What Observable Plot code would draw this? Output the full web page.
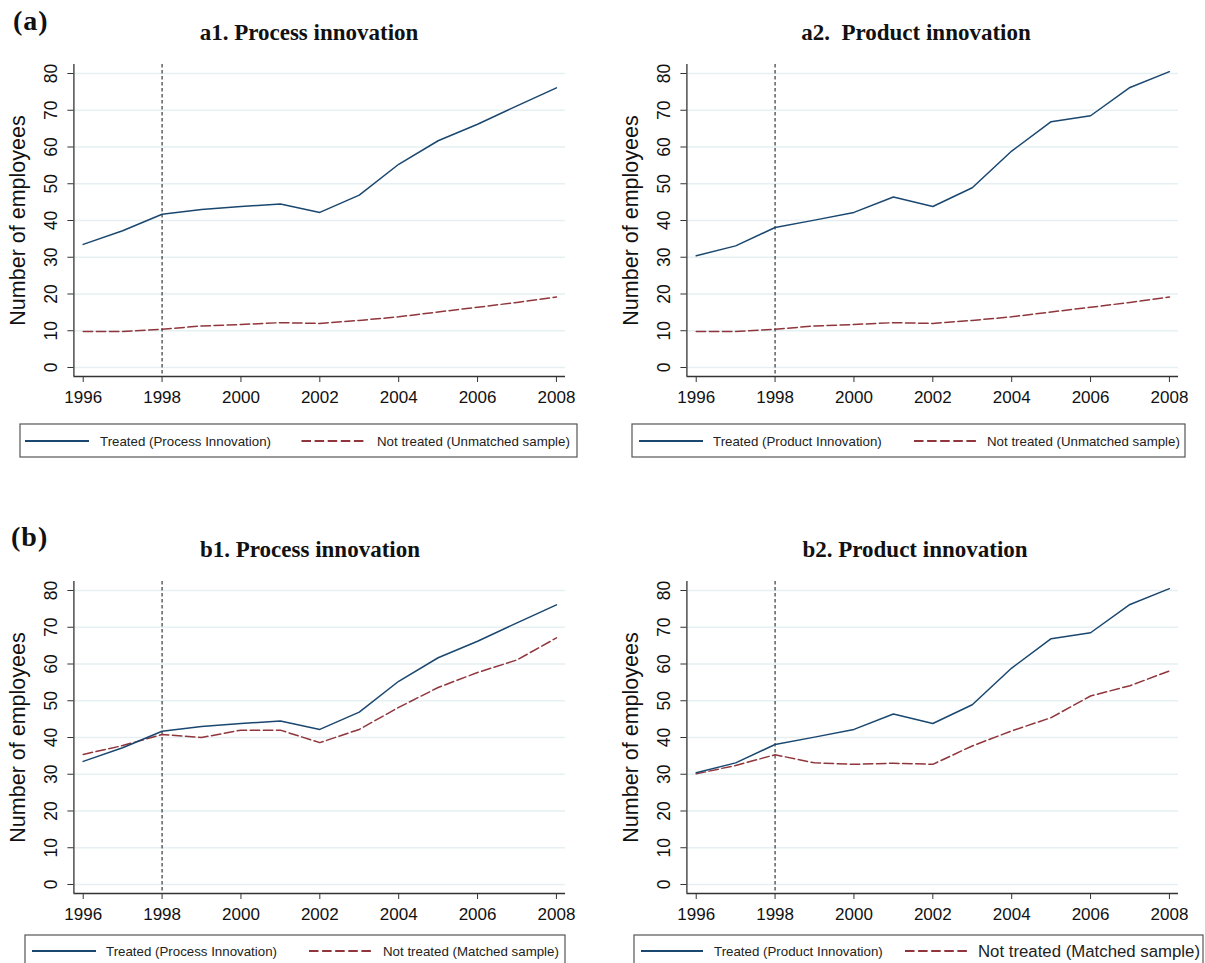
<!DOCTYPE html>
<html>
<head>
<meta charset="utf-8">
<script src="https://cdn.jsdelivr.net/npm/d3@7"></script>
<script src="https://cdn.jsdelivr.net/npm/@observablehq/plot@0.6"></script>
<style>
  html, body { margin: 0; padding: 0; background: #fff; }
  #figure { position: relative; width: 1205px; height: 963px; background: #fff; overflow: hidden; }
  #figure > .layer { position: absolute; }
</style>
</head>
<body>
<div id="figure"></div>
<script>
// Years covered by the panel data
const years = [1996, 1997, 1998, 1999, 2000, 2001, 2002, 2003, 2004, 2005, 2006, 2007, 2008];

// Mean number of employees, treated firms
const treatedProcess = [33.5, 37.2, 41.7, 43.0, 43.8, 44.5, 42.2, 46.9, 55.3, 61.7, 66.2, 71.2, 76.1];
const treatedProduct = [30.4, 33.1, 38.1, 40.1, 42.2, 46.4, 43.8, 48.9, 58.9, 66.9, 68.5, 76.2, 80.5];

// Not treated firms: full (unmatched) sample and matched controls
const notTreatedUnmatched = [9.8, 9.8, 10.4, 11.3, 11.7, 12.2, 12.0, 12.8, 13.8, 15.1, 16.4, 17.7, 19.2];
const matchedProcess = [35.4, 37.8, 40.8, 40.0, 42.0, 42.0, 38.6, 42.2, 48.2, 53.6, 57.7, 61.1, 67.1];
const matchedProduct = [30.1, 32.4, 35.3, 33.1, 32.7, 33.0, 32.7, 37.7, 41.8, 45.4, 51.3, 54.1, 58.1];

// Axis ticks and the year the programme starts
const xTicks = [1996, 1998, 2000, 2002, 2004, 2006, 2008];
const yTicks = [0, 10, 20, 30, 40, 50, 60, 70, 80];
const treatmentYear = 1998;

// Panel titles and legend entries
const groupLabels = ["(a)", "(b)"];
const panelTitles = ["a1. Process innovation", "a2.  Product innovation", "b1. Process innovation", "b2. Product innovation"];
const treatedLabels = ["Treated (Process Innovation)", "Treated (Product Innovation)", "Treated (Process Innovation)", "Treated (Product Innovation)"];
const controlLabels = ["Not treated (Unmatched sample)", "Not treated (Unmatched sample)", "Not treated (Matched sample)", "Not treated (Matched sample)"];
const yLabel = "Number of employees";

const BLUE = "#1a476f";
const RED = "#90353b";
const SANS = "'Liberation Sans', Arial, Helvetica, sans-serif";
const SERIF = "'Liberation Serif', 'Times New Roman', serif";
const DASH = "9.5,3.6";

const fig = document.getElementById("figure");

// Headings and legends live in one background SVG
const svg = d3.select(fig).append("svg")
  .attr("class", "layer")
  .attr("width", 1205).attr("height", 963)
  .style("left", "0px").style("top", "0px");

// group labels (a), (b)
[[13, 30], [11, 546]].forEach(([x, y], i) => {
  svg.append("text").attr("x", x).attr("y", y)
    .attr("font-family", SERIF).attr("font-weight", "bold").attr("font-size", 28)
    .attr("fill", "#111").attr("letter-spacing", 1)
    .text(groupLabels[i]);
});

// panel titles
const titlePos = [[309, 40], [916, 40], [310, 557], [915, 557]];
titlePos.forEach(([x, y], i) => {
  svg.append("text").attr("x", x).attr("y", y)
    .attr("text-anchor", "middle")
    .attr("font-family", SERIF).attr("font-weight", "bold").attr("font-size", 23)
    .attr("fill", "#111").style("white-space", "pre")
    .text(panelTitles[i]);
});

// legends: box, line keys and labels
const legends = [
  {box: [20, 424, 557, 33], cy: 441, solid: [25, 89], t1: 100, dash: [301.5, 365], t2: 377, fs2: 13.3},
  {box: [632, 424, 553, 33], cy: 441, solid: [639, 703], t1: 713, dash: [914, 977], t2: 987, fs2: 13.3},
  {box: [25, 935, 540, 40], cy: 951, solid: [32, 96], t1: 106, dash: [309, 373], t2: 383, fs2: 13.3},
  {box: [634, 935, 569, 40], cy: 951, solid: [641, 703], t1: 714, dash: [905, 969], t2: 978, fs2: 16.8}
];
legends.forEach((L, i) => {
  const g = svg.append("g");
  g.append("rect").attr("x", L.box[0]).attr("y", L.box[1]).attr("width", L.box[2]).attr("height", L.box[3])
    .attr("fill", "#fff").attr("stroke", "#555").attr("stroke-width", 1.2);
  g.append("line").attr("x1", L.solid[0]).attr("x2", L.solid[1]).attr("y1", L.cy).attr("y2", L.cy)
    .attr("stroke", BLUE).attr("stroke-width", 1.8);
  g.append("line").attr("x1", L.dash[0]).attr("x2", L.dash[1]).attr("y1", L.cy).attr("y2", L.cy)
    .attr("stroke", RED).attr("stroke-width", 1.8).attr("stroke-dasharray", DASH);
  g.append("text").attr("x", L.t1).attr("y", L.cy + 4.7)
    .attr("font-family", SANS).attr("font-size", 13.3).attr("fill", "#222")
    .text(treatedLabels[i]);
  g.append("text").attr("x", L.t2).attr("y", L.cy + 0.35 * L.fs2)
    .attr("font-family", SANS).attr("font-size", L.fs2).attr("fill", "#222")
    .text(controlLabels[i]);
});

// One line chart per panel
const xDomain = [1995.764, 2008.23];
const yDomain = [-2.45, 82.45];

function panel(treated, control) {
  const rows = years.flatMap((year, i) => [
    {year, value: treated[i], group: "treated"},
    {year, value: control[i], group: "control"}
  ]);
  return Plot.plot({
    width: 592,
    height: 365,
    marginLeft: 73.4,
    marginRight: 27,
    marginTop: 14,
    marginBottom: 39,
    x: {domain: xDomain},
    y: {domain: yDomain},
    style: {background: "transparent", fontFamily: SANS, overflow: "visible"},
    marks: [
      Plot.gridY(yTicks, {stroke: "#e6eff2", strokeOpacity: 1, strokeWidth: 1.4}),
      Plot.ruleX([treatmentYear], {stroke: "#111", strokeWidth: 1, strokeDasharray: "3.5,2.5"}),
      Plot.line(rows.filter(d => d.group === "control"), {
        x: "year", y: "value", stroke: RED, strokeWidth: 1.5, strokeDasharray: DASH
      }),
      Plot.line(rows.filter(d => d.group === "treated"), {
        x: "year", y: "value", stroke: BLUE, strokeWidth: 1.5
      }),
      Plot.ruleX([xDomain[0]], {stroke: "#333", strokeWidth: 1.3}),
      Plot.ruleY([yDomain[0]], {stroke: "#333", strokeWidth: 1.3}),
      Plot.axisX(xTicks, {
        tickSize: 6, tickPadding: 8, tickFormat: d => String(d),
        fontSize: 17, stroke: "#333", fill: "#111", label: null
      }),
      Plot.axisY(yTicks, {
        tickSize: 6, tickPadding: 11, tickRotate: -90,
        fontSize: 17.5, stroke: "#333", fill: "#111", label: null
      }),
      Plot.text([yLabel], {
        frameAnchor: "left", rotate: -90, dx: -56, fontSize: 21.5,
        fill: "#111", textAnchor: "middle", lineAnchor: "middle"
      })
    ]
  });
}

const panels = [
  {left: 0, top: 50, chart: panel(treatedProcess, notTreatedUnmatched)},
  {left: 613, top: 50, chart: panel(treatedProduct, notTreatedUnmatched)},
  {left: 0, top: 567, chart: panel(treatedProcess, matchedProcess)},
  {left: 613, top: 567, chart: panel(treatedProduct, matchedProduct)}
];
panels.forEach(p => {
  const holder = document.createElement("div");
  holder.className = "layer";
  holder.style.left = p.left + "px";
  holder.style.top = p.top + "px";
  holder.appendChild(p.chart);
  fig.appendChild(holder);
});
</script>
</body>
</html>
